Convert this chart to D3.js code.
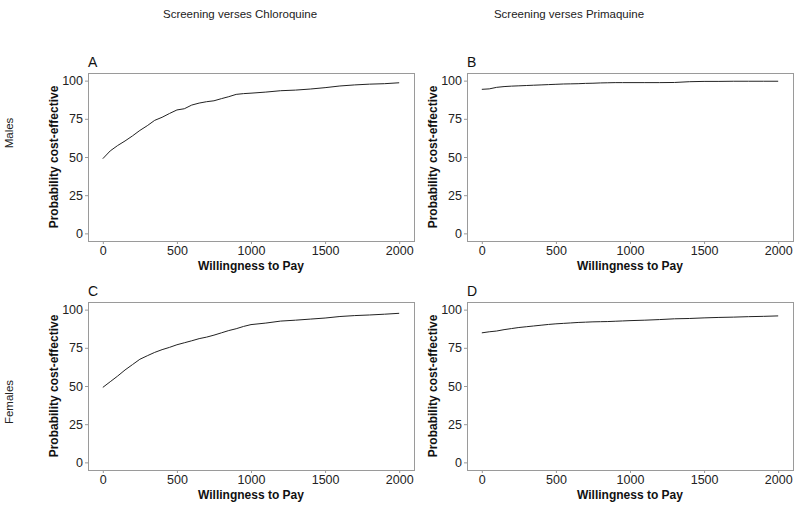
<!DOCTYPE html>
<html>
<head>
<meta charset="utf-8">
<script src="https://cdn.jsdelivr.net/npm/d3@7"></script>
<style>
  body { margin: 0; background: #fff; }
  svg { font-family: "Liberation Sans", Arial, sans-serif; }
</style>
</head>
<body>
<div id="chart"></div>
<script>
// willingness to pay grid (shared by all four panels)
const wtp = [0, 50, 100, 150, 200, 250, 300, 350, 400, 450, 500, 550, 600, 650, 700, 750,
  800, 850, 900, 950, 1000, 1100, 1200, 1300, 1400, 1500, 1600, 1700, 1800, 1900, 2000];

// probability cost-effective
const probA = [48.9, 54, 57.5, 60.5, 63.8, 67.4, 70.5, 74, 76, 78.5, 80.8, 81.6, 84, 85.3, 86.2, 86.8,
  88.2, 89.5, 91, 91.5, 91.8, 92.5, 93.4, 93.8, 94.5, 95.4, 96.5, 97.2, 97.7, 98, 98.6];
const probB = [94.3, 94.6, 95.6, 96.1, 96.4, 96.6, 96.8, 97, 97.2, 97.4, 97.6, 97.8, 97.9, 98.0, 98.2, 98.3,
  98.5, 98.6, 98.7, 98.7, 98.7, 98.7, 98.7, 98.8, 99.3, 99.5, 99.5, 99.6, 99.6, 99.6, 99.6];
const probC = [49.1, 52.8, 56.5, 60.5, 64, 67.5, 69.8, 72, 73.8, 75.3, 77, 78.3, 79.6, 81, 82, 83.3,
  84.8, 86.3, 87.5, 89, 90.2, 91.2, 92.5, 93.1, 93.8, 94.5, 95.5, 96.1, 96.5, 97, 97.6];
const probD = [84.8, 85.5, 86, 86.9, 87.6, 88.3, 88.8, 89.3, 89.8, 90.3, 90.7, 91, 91.3, 91.6, 91.8, 92,
  92.1, 92.2, 92.4, 92.6, 92.8, 93.1, 93.5, 94, 94.2, 94.6, 94.9, 95.1, 95.4, 95.6, 95.9];

const xTicks = [0, 500, 1000, 1500, 2000];
const yTicks = [0, 25, 50, 75, 100];
const panelLabels = ['A', 'B', 'C', 'D'];
const colTitles = ['Screening verses Chloroquine', 'Screening verses Primaquine'];
const rowTitles = ['Males', 'Females'];

const width = 796, height = 505;
const svg = d3.select('#chart').append('svg')
  .attr('width', width)
  .attr('height', height);

// panel frames (left, top) and size
const colX = [88, 467];
const rowY = [73, 302];
const pw = 326, ph = 168;

const panels = [
  { label: panelLabels[0], values: probA, col: 0, row: 0 },
  { label: panelLabels[1], values: probB, col: 1, row: 0 },
  { label: panelLabels[2], values: probC, col: 0, row: 1 },
  { label: panelLabels[3], values: probD, col: 1, row: 1 }
];

panels.forEach(p => {
  const left = colX[p.col], top = rowY[p.row];
  const x = d3.scaleLinear().domain([-100, 2100]).range([left, left + pw]);
  const y = d3.scaleLinear().domain([-5, 105]).range([top + ph, top]);

  const g = svg.append('g');

  // x axis
  const xa = g.append('g')
    .attr('transform', `translate(0,${top + ph})`)
    .call(d3.axisBottom(x).tickValues(xTicks).tickFormat(d3.format('d'))
      .tickSize(3).tickSizeOuter(0).tickPadding(2));
  // y axis
  const ya = g.append('g')
    .attr('transform', `translate(${left},0)`)
    .call(d3.axisLeft(y).tickValues(yTicks).tickFormat(d3.format('d'))
      .tickSize(3).tickSizeOuter(0).tickPadding(2));

  [xa, ya].forEach(a => {
    a.select('.domain').remove();
    a.selectAll('line').attr('stroke', '#9a9a9a');
    a.selectAll('text')
      .attr('fill', '#222')
      .style('font-size', '12.5px')
      .style('font-family', '"Liberation Sans", Arial, sans-serif');
  });

  // panel border
  g.append('rect')
    .attr('x', left + 0.5)
    .attr('y', top + 0.5)
    .attr('width', pw)
    .attr('height', ph)
    .attr('fill', 'none')
    .attr('stroke', '#9a9a9a')
    .attr('stroke-width', 1);

  // curve
  const line = d3.line()
    .x((d, i) => x(wtp[i]))
    .y(d => y(d));
  g.append('path')
    .datum(p.values)
    .attr('d', line)
    .attr('fill', 'none')
    .attr('stroke', '#222')
    .attr('stroke-width', 1);

  // panel label
  g.append('text')
    .attr('x', left)
    .attr('y', top - 6)
    .style('font-size', '14px')
    .attr('fill', '#111')
    .text(p.label);

  // axis titles
  g.append('text')
    .attr('x', left + pw / 2)
    .attr('y', top + ph + 29)
    .attr('text-anchor', 'middle')
    .style('font-size', '12px')
    .style('font-weight', 'bold')
    .attr('fill', '#111')
    .text('Willingness to Pay');

  g.append('text')
    .attr('transform', `translate(${left - 30},${top + ph / 2}) rotate(-90)`)
    .attr('text-anchor', 'middle')
    .style('font-size', '12px')
    .style('font-weight', 'bold')
    .attr('fill', '#111')
    .text('Probability cost-effective');
});

// column titles
const colTitleX = [240, 569];
colTitles.forEach((t, i) => {
  svg.append('text')
    .attr('x', colTitleX[i])
    .attr('y', 18)
    .attr('text-anchor', 'middle')
    .style('font-size', '11.5px')
    .attr('fill', '#222')
    .text(t);
});

// row titles
const rowTitleY = [133, 402];
rowTitles.forEach((t, i) => {
  svg.append('text')
    .attr('transform', `translate(13,${rowTitleY[i]}) rotate(-90)`)
    .attr('text-anchor', 'middle')
    .style('font-size', '11.5px')
    .attr('fill', '#222')
    .text(t);
});
</script>
</body>
</html>
